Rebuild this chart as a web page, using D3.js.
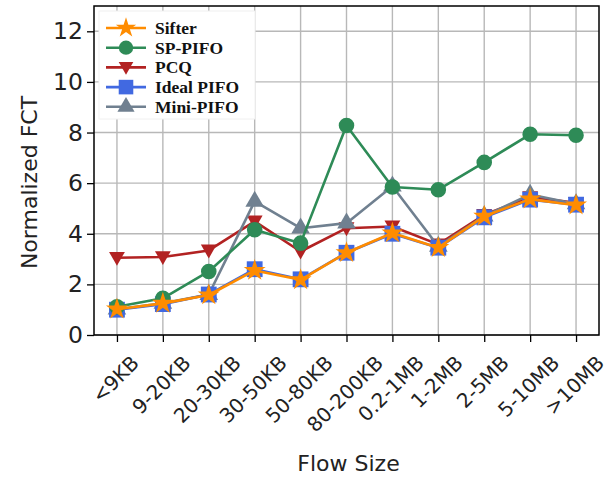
<!DOCTYPE html>
<html>
<head>
<meta charset="utf-8">
<script src="https://cdn.jsdelivr.net/npm/d3@7"></script>
<style>
  html, body { margin: 0; padding: 0; background: #fff; }
  svg { display: block; }
</style>
</head>
<body>
<svg id="chart" width="610" height="477"></svg>
<script>
// Flow size buckets along the x axis
const categories = ["<9KB", "9-20KB", "20-30KB", "30-50KB", "50-80KB", "80-200KB",
                    "0.2-1MB", "1-2MB", "2-5MB", "5-10MB", ">10MB"];

// Normalized flow completion time per scheduler
const sifter    = [1.02, 1.25, 1.58, 2.55, 2.18, 3.25, 4.03, 3.45, 4.69, 5.37, 5.13];
const spPifo    = [1.12, 1.45, 2.51, 4.16, 3.63, 8.28, 5.85, 5.74, 6.82, 7.93, 7.89];
const pcq       = [3.05, 3.08, 3.34, 4.49, 3.30, 4.22, 4.29, 3.58, 4.75, 5.45, 5.22];
const idealPifo = [1.00, 1.22, 1.60, 2.60, 2.20, 3.25, 4.00, 3.45, 4.65, 5.35, 5.15];
const miniPifo  = [1.02, 1.25, 1.60, 5.28, 4.22, 4.42, 5.88, 3.50, 4.70, 5.55, 5.18];

const yTicks = [0, 2, 4, 6, 8, 10, 12];

const series = [
  { name: "Sifter",     values: sifter,    color: "#ff8c00", symbol: d3.symbolStar,     size: 150, order: 5 },
  { name: "SP-PIFO",    values: spPifo,    color: "#2e8b57", symbol: d3.symbolCircle,   size: 190, order: 3 },
  { name: "PCQ",        values: pcq,       color: "#b22222", symbol: "triDown",         size: 150, order: 0 },
  { name: "Ideal PIFO", values: idealPifo, color: "#4169e1", symbol: d3.symbolSquare,   size: 250, order: 2 },
  { name: "Mini-PIFO",  values: miniPifo,  color: "#708090", symbol: d3.symbolTriangle, size: 150, order: 1 }
];

const svg = d3.select("#chart");
const plot = { left: 94, right: 599, top: 6, bottom: 335 };

const x = d3.scaleLinear()
  .domain([-0.5, categories.length - 0.5])
  .range([plot.left, plot.right]);
const y = d3.scaleLinear()
  .domain([0, 13])
  .range([plot.bottom, plot.top]);

// Downward pointing triangle marker
const symbolTriangleDown = {
  draw(context, size) {
    const s = Math.sqrt(size / (3 * Math.sqrt(3)));
    const h = s * Math.sqrt(3);
    context.moveTo(0, s * 1.5);
    context.lineTo(-h * 0.85, -s * 1.1);
    context.lineTo(h * 0.85, -s * 1.1);
    context.closePath();
  }
};
function symbolFor(s) { return s.symbol === "triDown" ? symbolTriangleDown : s.symbol; }

// Grid
const grid = svg.append("g").attr("stroke", "#b8b8b8").attr("stroke-width", 1.4);
grid.selectAll("line.gx").data(categories).join("line")
  .attr("x1", (d, i) => x(i)).attr("x2", (d, i) => x(i))
  .attr("y1", plot.top).attr("y2", plot.bottom);
grid.selectAll("line.gy").data(yTicks).join("line")
  .attr("x1", plot.left).attr("x2", plot.right)
  .attr("y1", d => y(d)).attr("y2", d => y(d));

// Axes
const xAxis = d3.axisBottom(x)
  .tickValues(d3.range(categories.length))
  .tickFormat(i => categories[i])
  .tickSize(7).tickSizeOuter(0);
const gx = svg.append("g")
  .attr("transform", `translate(0,${plot.bottom})`)
  .call(xAxis);
gx.select(".domain").remove();
gx.selectAll(".tick line").attr("stroke", "#000").attr("stroke-width", 1.3);

const tickFont = 20;
gx.selectAll(".tick text")
  .attr("font-family", "DejaVu Sans")
  .attr("font-size", tickFont)
  .attr("fill", "#222")
  .attr("text-anchor", "middle")
  .attr("dominant-baseline", "central")
  .attr("dy", null)
  .attr("y", null)
  .each(function () {
    const w = this.getComputedTextLength();
    const top = 351 - plot.bottom;
    const cy = top + (w + tickFont * 1.164) / 2.828;
    d3.select(this).attr("transform", `translate(-2,${cy}) rotate(-45)`);
  });

const yAxis = d3.axisLeft(y).tickValues(yTicks).tickSize(7).tickSizeOuter(0).tickPadding(4);
const gy = svg.append("g")
  .attr("transform", `translate(${plot.left},0)`)
  .call(yAxis);
gy.select(".domain").remove();
gy.selectAll(".tick line").attr("stroke", "#000").attr("stroke-width", 1.3);
gy.selectAll(".tick text")
  .attr("font-family", "DejaVu Sans")
  .attr("font-size", 23.5)
  .attr("fill", "#222");

// Frame
svg.append("rect")
  .attr("x", plot.left).attr("y", plot.top)
  .attr("width", plot.right - plot.left).attr("height", plot.bottom - plot.top)
  .attr("fill", "none").attr("stroke", "#000").attr("stroke-width", 1.5);

// Axis titles
svg.append("text")
  .attr("x", (plot.left + plot.right) / 2 + 2).attr("y", 471)
  .attr("text-anchor", "middle")
  .attr("font-family", "DejaVu Sans").attr("font-size", 22).attr("fill", "#222")
  .text("Flow Size");
svg.append("text")
  .attr("transform", `translate(37,${(plot.top + plot.bottom) / 2 + 12}) rotate(-90)`)
  .attr("text-anchor", "middle")
  .attr("font-family", "DejaVu Sans").attr("font-size", 22).attr("fill", "#222")
  .text("Normalized FCT");

// Lines and markers
const line = d3.line().x((d, i) => x(i)).y(d => y(d));
const drawOrder = series.slice().sort((a, b) => a.order - b.order);
const layers = svg.append("g");
drawOrder.forEach(s => {
  const g = layers.append("g");
  g.append("path")
    .datum(s.values)
    .attr("d", line)
    .attr("fill", "none")
    .attr("stroke", s.color)
    .attr("stroke-width", 2.6)
    .attr("stroke-linejoin", "round");
  g.selectAll("path.m").data(s.values).join("path")
    .attr("class", "m")
    .attr("transform", (d, i) => `translate(${x(i)},${y(d)})`)
    .attr("d", d3.symbol().type(symbolFor(s)).size(s.size))
    .attr("fill", s.color);
});

// Legend
const legend = svg.append("g");
legend.append("rect")
  .attr("x", 99).attr("y", 11).attr("width", 156).attr("height", 108)
  .attr("fill", "#fff").attr("stroke", "#f0f0f0").attr("stroke-width", 1);
series.forEach((s, i) => {
  const ly = 28 + i * 19.7;
  legend.append("line")
    .attr("x1", 106).attr("x2", 146).attr("y1", ly).attr("y2", ly)
    .attr("stroke", s.color).attr("stroke-width", 2.6);
  legend.append("path")
    .attr("transform", `translate(126,${ly})`)
    .attr("d", d3.symbol().type(symbolFor(s)).size(s.size * 0.85))
    .attr("fill", s.color);
  legend.append("text")
    .attr("x", 155).attr("y", ly + 6)
    .attr("font-family", "Liberation Serif").attr("font-weight", "bold")
    .attr("font-size", 17.5).attr("fill", "#111")
    .text(s.name);
});
</script>
</body>
</html>
